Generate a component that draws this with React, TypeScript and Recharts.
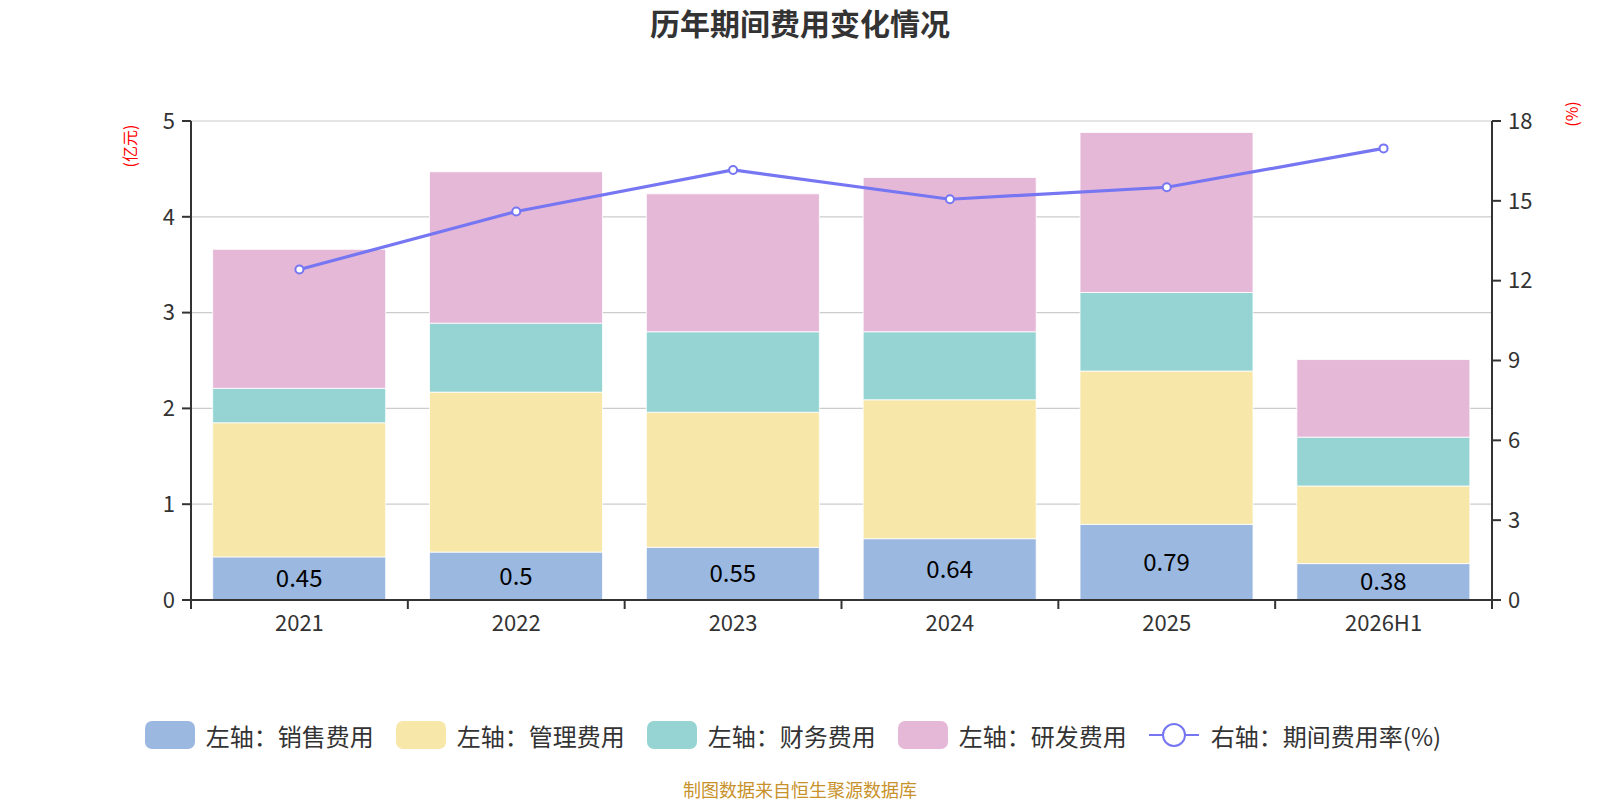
import React from 'react';
import { ComposedChart, Bar, Line, XAxis, YAxis, CartesianGrid, LabelList } from 'recharts';

const years = ['2021', '2022', '2023', '2024', '2025', '2026H1'];
const salesExpense = [0.45, 0.5, 0.55, 0.64, 0.79, 0.38];
const adminExpense = [1.4, 1.67, 1.41, 1.45, 1.6, 0.81];
const financeExpense = [0.36, 0.72, 0.84, 0.71, 0.82, 0.51];
const rdExpense = [1.45, 1.58, 1.44, 1.61, 1.67, 0.81];
const expenseRate = [12.42, 14.6, 16.16, 15.06, 15.51, 16.97];

const leftTicks = [0, 1, 2, 3, 4, 5];
const rightTicks = [0, 3, 6, 9, 12, 15, 18];

const W = 1600;
const H = 800;
const MARGIN = { top: 121, right: 48, bottom: 160, left: 131 };
const Y_W = 60;
const X_H = 40;
const PLOT_W = W - MARGIN.left - MARGIN.right - Y_W * 2;
const PLOT_BOTTOM = H - MARGIN.bottom - X_H;

const C_SALES = '#9bb8e1';
const C_ADMIN = '#f7e7a8';
const C_FIN = '#96d3d3';
const C_RD = '#e6b8d8';
const C_LINE = '#7676f2';
const AXIS = '#333';

const data = years.map((y, i) => ({
  year: y,
  sales: salesExpense[i],
  admin: adminExpense[i],
  finance: financeExpense[i],
  rd: rdExpense[i],
  rate: expenseRate[i],
}));

const legendItems = [
  { name: '左轴：销售费用', color: C_SALES, type: 'rect' },
  { name: '左轴：管理费用', color: C_ADMIN, type: 'rect' },
  { name: '左轴：财务费用', color: C_FIN, type: 'rect' },
  { name: '左轴：研发费用', color: C_RD, type: 'rect' },
  { name: '右轴：期间费用率(%)', color: C_LINE, type: 'line' },
];

// ticks sit on category boundaries, labels on centres
const XTick = (props: any) => {
  const { x, payload, index } = props;
  const half = PLOT_W / years.length / 2;
  return (
    <g>
      <line x1={x - half} x2={x - half} y1={PLOT_BOTTOM} y2={PLOT_BOTTOM + 9} stroke={AXIS} strokeWidth={2} />
      {index === years.length - 1 && (
        <line x1={x + half} x2={x + half} y1={PLOT_BOTTOM} y2={PLOT_BOTTOM + 9} stroke={AXIS} strokeWidth={2} />
      )}
      <text x={x} y={PLOT_BOTTOM + 23} dy="0.35em" textAnchor="middle" fill={AXIS} fontSize={22}>
        {payload.value}
      </text>
    </g>
  );
};

export default function App() {
  return (
    <div
      style={{
        position: 'absolute',
        left: 0,
        top: 0,
        width: W,
        height: H,
        background: '#fff',
        fontFamily: '"Noto Sans CJK SC", "Noto Sans", sans-serif',
      }}
    >
      <div
        style={{
          position: 'absolute',
          top: 0,
          left: 0,
          width: W,
          textAlign: 'center',
          fontSize: 30,
          lineHeight: '44px',
          fontWeight: 'bold',
          color: '#333',
        }}
      >
        历年期间费用变化情况
      </div>
      <div
        style={{
          position: 'absolute',
          left: 129,
          top: 146,
          transform: 'translate(-50%, -50%) rotate(-90deg)',
          color: 'red',
          fontSize: 16,
          whiteSpace: 'nowrap',
        }}
      >
        (亿元)
      </div>
      <div
        style={{
          position: 'absolute',
          left: 1571,
          top: 114,
          transform: 'translate(-50%, -50%) rotate(-90deg)',
          color: 'red',
          fontSize: 16,
          whiteSpace: 'nowrap',
        }}
      >
        (%)
      </div>
      <ComposedChart width={W} height={H} data={data} margin={MARGIN} barCategoryGap="10%">
        <CartesianGrid vertical={false} stroke="#ccc" strokeWidth={1.2} yAxisId="left" />
        <XAxis
          dataKey="year"
          height={X_H}
          axisLine={{ stroke: AXIS, strokeWidth: 2 }}
          tickLine={false}
          tick={<XTick />}
          interval={0}
        />
        <YAxis
          yAxisId="left"
          width={Y_W}
          domain={[0, 5]}
          ticks={leftTicks}
          axisLine={{ stroke: AXIS, strokeWidth: 2 }}
          tickLine={{ stroke: AXIS, strokeWidth: 2 }}
          tickSize={9}
          tickMargin={7}
          tick={{ fill: AXIS, fontSize: 22 }}
        />
        <YAxis
          yAxisId="right"
          orientation="right"
          width={Y_W}
          domain={[0, 18]}
          ticks={rightTicks}
          axisLine={{ stroke: AXIS, strokeWidth: 2 }}
          tickLine={{ stroke: AXIS, strokeWidth: 2 }}
          tickSize={9}
          tickMargin={7}
          tick={{ fill: AXIS, fontSize: 22 }}
        />
        <Bar yAxisId="left" dataKey="sales" stackId="a" fill={C_SALES} stroke="#fff" strokeWidth={0.8} isAnimationActive={false}>
          <LabelList dataKey="sales" position="center" fill="#000" fontSize={24} />
        </Bar>
        <Bar yAxisId="left" dataKey="admin" stackId="a" fill={C_ADMIN} stroke="#fff" strokeWidth={0.8} isAnimationActive={false} />
        <Bar yAxisId="left" dataKey="finance" stackId="a" fill={C_FIN} stroke="#fff" strokeWidth={0.8} isAnimationActive={false} />
        <Bar yAxisId="left" dataKey="rd" stackId="a" fill={C_RD} stroke="#fff" strokeWidth={0.8} isAnimationActive={false} />
        <Line
          yAxisId="right"
          dataKey="rate"
          stroke={C_LINE}
          strokeWidth={3.2}
          dot={{ r: 4, fill: '#fff', stroke: C_LINE, strokeWidth: 2 }}
          activeDot={false}
          isAnimationActive={false}
        />
      </ComposedChart>
      <div
        style={{
          position: 'absolute',
          top: 716,
          left: 0,
          width: W,
          display: 'flex',
          justifyContent: 'center',
          paddingRight: 14,
          boxSizing: 'border-box',
          fontSize: 24,
          color: '#333',
        }}
      >
        {legendItems.map((it, i) => (
          <div
            key={it.name}
            style={{ display: 'flex', alignItems: 'center', marginLeft: i === 0 ? 0 : 22, height: 38 }}
          >
            {it.type === 'rect' ? (
              <div style={{ width: 50, height: 28, borderRadius: 7, background: it.color, marginRight: 11 }} />
            ) : (
              <svg width={50} height={28} style={{ marginRight: 12 }}>
                <line x1={0} x2={50} y1={14} y2={14} stroke={it.color} strokeWidth={2} />
                <circle cx={25} cy={14} r={11} fill="#fff" stroke={it.color} strokeWidth={2} />
              </svg>
            )}
            <span>{it.name}</span>
          </div>
        ))}
      </div>
      <div
        style={{
          position: 'absolute',
          top: 776,
          left: 0,
          width: W,
          textAlign: 'center',
          fontSize: 18,
          lineHeight: '26px',
          color: '#c8922b',
        }}
      >
        制图数据来自恒生聚源数据库
      </div>
    </div>
  );
}
